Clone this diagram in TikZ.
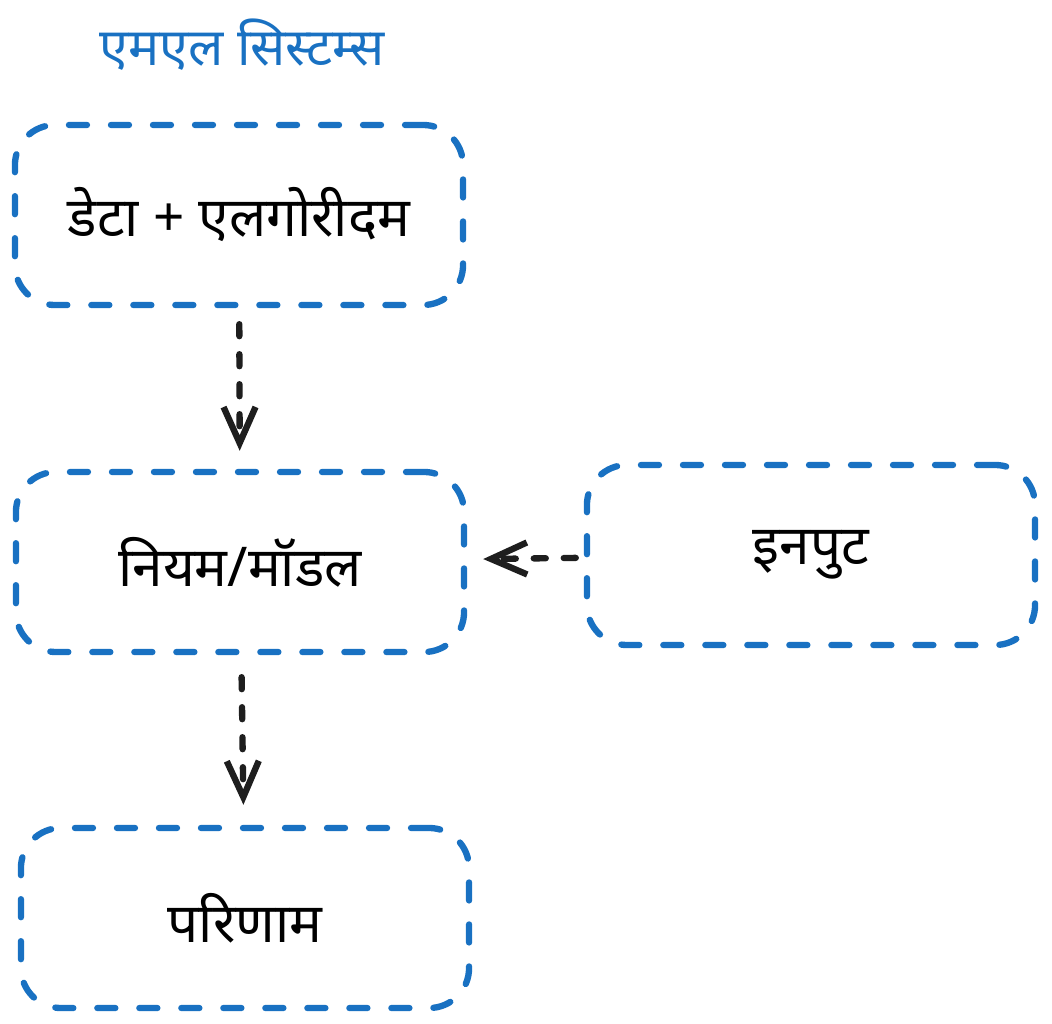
\documentclass[tikz,border=0pt]{standalone}
\usepackage{fontspec}
\newfontfamily\devfont[Script=Devanagari]{Noto Sans}
\usetikzlibrary{arrows.meta, positioning}
\definecolor{boxblue}{RGB}{25,113,194}
\definecolor{inkblack}{RGB}{30,30,30}

\begin{document}
\begin{tikzpicture}[x=0.025cm, y=-0.025cm,
    stage/.style={draw=boxblue, line width=4.5pt, line cap=round, dash pattern=on 0.45cm off 0.6cm,
        rounded corners=1cm, minimum width=11.2cm, minimum height=4.5cm, inner sep=0pt,
        font=\devfont\fontsize{39}{46}\selectfont},
    flow/.style={draw=inkblack, line width=4.5pt, line cap=round, dash pattern=on 0.3cm off 0.45cm,
        -{Straight Barb[length=0.9cm, width=0.8cm]}}]
    \useasboundingbox (0,0) rectangle (1052,1024);

    % heading
    \node[text=boxblue, font=\devfont\fontsize{37}{44}\selectfont] (heading) at (242,45) {एमएल सिस्टम्स};

    % stages
    \node[stage] (data) at (239,215) {डेटा + एलगोरीदम};
    \node[stage] (model) at (240,562) {नियम/मॉडल};
    \node[stage] (input) at (811,555) {इनपुट};
    \node[stage] (result) at (245,918) {परिणाम};

    % flows
    \draw[flow, shorten <=0.4cm, shorten >=0.45cm] (data) -- (model);
    \draw[flow, shorten <=0.55cm, shorten >=0.5cm] (model) -- (result);
    \draw[flow, shorten <=0.2cm, shorten >=0.4cm] (input) -- (model);
\end{tikzpicture}
\end{document}
